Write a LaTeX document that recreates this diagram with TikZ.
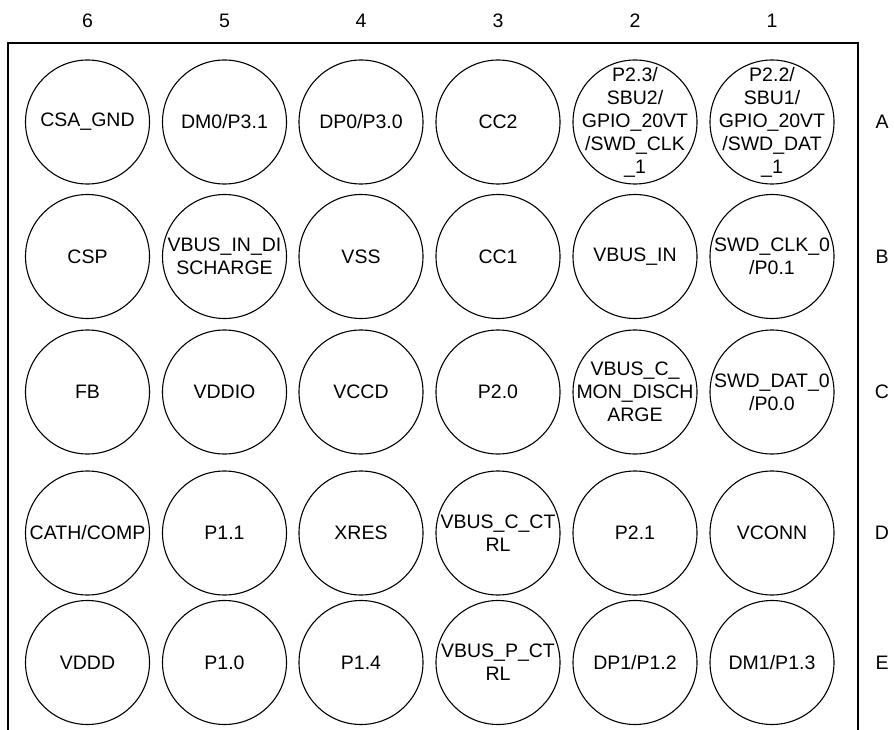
\documentclass[tikz,border=0pt]{standalone}
\usepackage{fontspec}
\setmainfont{Liberation Sans}
\begin{document}
\begin{tikzpicture}[x=1pt,y=-1pt,
  ball/.style={draw, circle, line width=1.1pt, minimum size=124pt, inner sep=0pt,
    label={[balltext]center:#1}},
  balltext/.style={align=center, inner sep=0pt, font=\fontsize{19.5}{23}\selectfont},
  lbl/.style={font=\fontsize{19.5}{23}\selectfont, inner sep=0pt}]
\useasboundingbox (0,0) rectangle (894,730);
\draw[line width=1.3pt] (8,730) -- (8,43) -- (858,43) -- (858,730);
% columns x: 87.5,224.5,361,498,635,772 ; rows y: 122,256.5,392,533,662.5
\foreach \c/\x in {6/87.5,5/224.5,4/361,3/498,2/635,1/772}
  \node[lbl] (col\c) at (\x,21) {\c};
\foreach \r/\y in {A/122,B/256.5,C/392,D/533,E/662.5}
  \node[lbl] (row\r) at (882,\y) {\r};
% Row A
\node[ball={CSA\_GND}] (A6) at (87.5,122) {};
\node[ball={DM0/P3.1}] (A5) at (224.5,122) {};
\node[ball={DP0/P3.0}] (A4) at (361,122) {};
\node[ball={CC2}] (A3) at (498,122) {};
\node[ball={P2.3/\\SBU2/\\GPIO\_20VT\\/SWD\_CLK\\\_1}] (A2) at (635,122) {};
\node[ball={P2.2/\\SBU1/\\GPIO\_20VT\\/SWD\_DAT\\\_1}] (A1) at (772,122) {};
% Row B
\node[ball={CSP}] (B6) at (87.5,256.5) {};
\node[ball={VBUS\_IN\_DI\\SCHARGE}] (B5) at (224.5,256.5) {};
\node[ball={VSS}] (B4) at (361,256.5) {};
\node[ball={CC1}] (B3) at (498,256.5) {};
\node[ball={VBUS\_IN}] (B2) at (635,256.5) {};
\node[ball={SWD\_CLK\_0\\/P0.1}] (B1) at (772,256.5) {};
% Row C
\node[ball={FB}] (C6) at (87.5,392) {};
\node[ball={VDDIO}] (C5) at (224.5,392) {};
\node[ball={VCCD}] (C4) at (361,392) {};
\node[ball={P2.0}] (C3) at (498,392) {};
\node[ball={VBUS\_C\_\\MON\_DISCH\\ARGE}] (C2) at (635,392) {};
\node[ball={SWD\_DAT\_0\\/P0.0}] (C1) at (772,392) {};
% Row D
\node[ball={CATH/COMP}] (D6) at (87.5,533) {};
\node[ball={P1.1}] (D5) at (224.5,533) {};
\node[ball={XRES}] (D4) at (361,533) {};
\node[ball={VBUS\_C\_CT\\RL}] (D3) at (498,533) {};
\node[ball={P2.1}] (D2) at (635,533) {};
\node[ball={VCONN}] (D1) at (772,533) {};
% Row E
\node[ball={VDDD}] (E6) at (87.5,662.5) {};
\node[ball={P1.0}] (E5) at (224.5,662.5) {};
\node[ball={P1.4}] (E4) at (361,662.5) {};
\node[ball={VBUS\_P\_CT\\RL}] (E3) at (498,662.5) {};
\node[ball={DP1/P1.2}] (E2) at (635,662.5) {};
\node[ball={DM1/P1.3}] (E1) at (772,662.5) {};
\end{tikzpicture}
\end{document}
